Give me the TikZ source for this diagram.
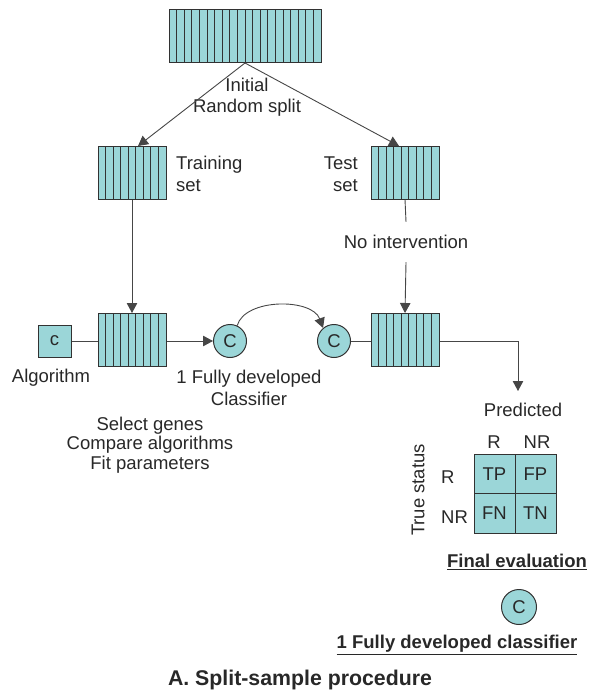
\documentclass[tikz,border=0pt]{standalone}
\usepackage{fontspec}
\setmainfont{Liberation Sans}
\usetikzlibrary{arrows.meta,calc}
\definecolor{boxfill}{RGB}{155,214,216}
\definecolor{boxline}{RGB}{50,50,50}
\definecolor{conn}{RGB}{70,70,70}
\definecolor{txt}{RGB}{40,40,40}
\tikzset{
  striped/.style={draw=boxline, fill=boxfill, line width=1pt, inner sep=0pt,
    path picture={
      \pgfmathtruncatemacro{\nn}{#1-1}
      \foreach \i in {1,...,\nn}{
        \draw[boxline, line width=1pt]
          ($(path picture bounding box.south west)!\i/#1!(path picture bounding box.south east)$) --
          ($(path picture bounding box.north west)!\i/#1!(path picture bounding box.north east)$);
      }}},
  bigbox/.style={striped=20, minimum width=152pt, minimum height=53pt},
  smallbox/.style={striped=9, minimum width=68pt, minimum height=53pt},
  circ/.style={circle, draw=boxline, fill=boxfill, line width=1pt, minimum size=33pt, inner sep=0pt, text=txt},
  cell/.style={rectangle, draw=boxline, fill=boxfill, line width=1pt, minimum width=41pt, minimum height=39.5pt, inner sep=0pt, text=txt},
  algbox/.style={rectangle, draw=boxline, fill=boxfill, line width=1pt, minimum width=33pt, minimum height=32pt, inner sep=0pt, text=txt},
  lbl/.style={text=txt, inner sep=0pt},
  conn/.style={draw=conn, line width=0.9pt},
  arr/.style={conn, -{Triangle[width=10.5pt,length=10pt]}},
}
\newcommand{\ulbold}[1]{\underline{#1}}
\begin{document}
\begin{tikzpicture}[x=1pt, y=-1pt, font=\fontsize{18.5}{21.5}\selectfont]
\useasboundingbox (0,0) rectangle (589,690);

% boxes
\node[bigbox] (top) at (245,36.5) {};
\node[smallbox] (trainA) at (132,172.5) {};
\node[smallbox] (testA) at (405,172.5) {};
\node[smallbox] (trainB) at (132,340) {};
\node[smallbox] (testB) at (405,340) {};
\node[algbox] (alg) at (54.5,341) {c};
\node[circ] (c1) at (230,341) {C};
\node[circ] (c2) at (334,341) {C};

% labels
\node[lbl, align=center] (split) at (247,97) {Initial\\Random split};
\node[lbl, align=left, anchor=west] (trainlbl) at (176,174) {Training\\set};
\node[lbl, align=right, anchor=east] (testlbl) at (358,174) {Test\\set};
\node[lbl, minimum height=40pt] (noint) at (406,242) {No intervention};
\node[lbl] (alglbl) at (51,378) {Algorithm};
\node[lbl, align=center] (fdc) at (249,388) {1 Fully developed\\Classifier};
\node[lbl, align=center, font=\fontsize{18.5}{19.5}\selectfont] (sel) at (150,445) {Select genes\\Compare algorithms\\Fit parameters};

% connectors
\coordinate (split0) at (245,63);
\coordinate (trainT) at (138,146);
\coordinate (testT) at (399,146);
\draw[arr] (split0) -- (trainT);
\draw[arr] (split0) -- (testT);
\draw[arr] (trainA.south) -- (trainB.north);
\draw[conn] (testA.south) -- (noint.north);
\draw[arr] (noint.south) -- (testB.north);
\draw[conn] (alg.east) -- (trainB.west |- alg.east);
\draw[arr] (trainB.east |- c1.west) -- (c1.west);
\draw[arr] (c1.65) .. controls (245,298) and (312,298) .. (c2.130);
\draw[conn] (c2.east) -- (testB.west |- c2.east);
\coordinate (bend) at (518,341);
\coordinate (predT) at (518,391);
\draw[arr] (testB.east |- bend) -- (bend) -- (predT);

% confusion matrix
\node[lbl] (pred) at (523,410) {Predicted};
\node[lbl] (colR) at (494,442) {R};
\node[lbl] (colNR) at (537,442) {NR};
\node[lbl, anchor=west] (rowR) at (441,477) {R};
\node[lbl, anchor=west] (rowNR) at (441,517) {NR};
\node[lbl, rotate=90] (truest) at (418,490) {True status};
\node[cell] (tp) at (494.5,473.75) {TP};
\node[cell] (fp) at (535.5,473.75) {FP};
\node[cell] (fn) at (494.5,513.25) {FN};
\node[cell] (tn) at (535.5,513.25) {TN};

\node[lbl, font=\fontsize{18.5}{21.5}\selectfont\bfseries] (finev) at (517,562) {\ulbold{Final evaluation}};
\node[circ, minimum size=35pt] (c3) at (519,607) {C};
\node[lbl, font=\fontsize{18.5}{21.5}\selectfont\bfseries] (fdc2) at (457,645) {\ulbold{1 Fully developed classifier}};
\node[lbl, font=\fontsize{21.3}{24}\selectfont\bfseries] (title) at (300,680) {A. Split-sample procedure};
\end{tikzpicture}
\end{document}
